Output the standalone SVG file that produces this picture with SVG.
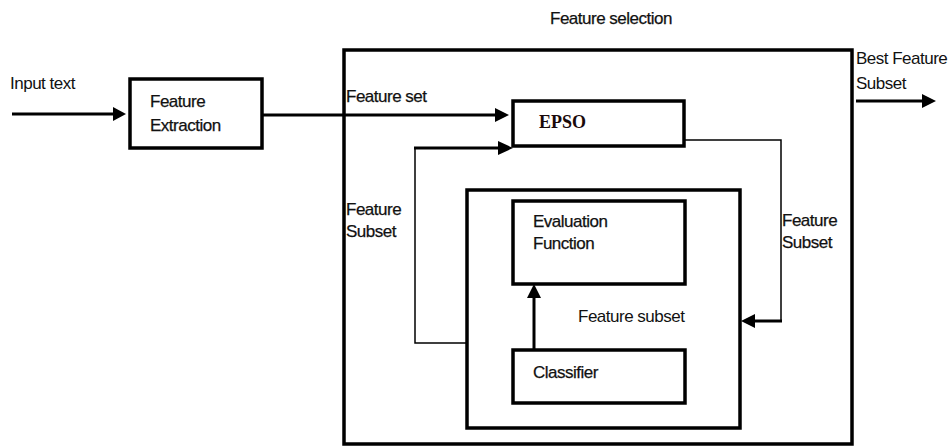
<svg xmlns="http://www.w3.org/2000/svg" width="950" height="447" viewBox="0 0 950 447">
<style>
text{font-family:"Liberation Sans",Arial,sans-serif;font-size:17px;fill:#111;letter-spacing:-0.5px;stroke:#111;stroke-width:0.25}
.box{fill:#fff;stroke:#000;stroke-width:3.5}
.thin{fill:none;stroke:#000;stroke-width:1.5}
.thick{fill:none;stroke:#000;stroke-width:3}
</style>
<text x="550" y="24">Feature selection</text>
<g id="outer"><rect class="box" x="344" y="50" width="508" height="394"/></g>
<g id="feature-extraction"><rect class="box" x="130" y="79" width="132" height="69"/>
<text x="150" y="107">Feature</text><text x="150" y="131">Extraction</text></g>
<g id="epso"><rect class="box" x="513" y="101" width="171" height="45"/>
<text x="539" y="128" style="font-family:'Liberation Serif','Times New Roman',serif;font-weight:bold;font-size:18px;letter-spacing:0;stroke:none;fill:#1a0a0a">EPSO</text></g>
<g id="inner"><rect class="box" x="467" y="190" width="273" height="238"/></g>
<g id="evaluation"><rect class="box" x="513" y="201" width="172" height="83"/>
<text x="533" y="227">Evaluation</text><text x="533" y="249">Function</text></g>
<g id="classifier"><rect class="box" x="513" y="350" width="172" height="53"/>
<text x="533" y="378">Classifier</text></g>
<g id="connectors">
<line class="thick" x1="12" y1="114" x2="113" y2="114"/>
<path d="M113,107 L126,114 L113,121 z"/>
<line class="thick" x1="262" y1="115" x2="495" y2="115"/>
<path d="M495,108 L509,115 L495,122 z"/>
<polyline class="thin" points="467,343 415,343 415,148"/>
<line class="thick" x1="414" y1="148" x2="498" y2="148"/>
<path d="M498,141 L513,148 L498,155 z"/>
<polyline class="thin" points="684,140 781,140 781,321 755,321"/>
<line class="thick" x1="782" y1="321" x2="754" y2="321"/>
<path d="M755,314 L741,321 L755,328 z"/>
<line class="thick" x1="534" y1="350" x2="534" y2="298"/>
<path d="M527,298 L534,284 L541,298 z"/>
<line class="thick" x1="856" y1="101" x2="922" y2="101"/>
<path d="M922,94 L936,101 L922,108 z"/>
</g>
<text x="346" y="102">Feature set</text>
<text x="346" y="215">Feature</text><text x="346" y="237">Subset</text>
<text x="782" y="226">Feature</text><text x="782" y="248">Subset</text>
<text x="578" y="322" style="stroke:none">Feature subset</text>
<text x="10" y="89" style="stroke:none">Input text</text>
<text x="856" y="64" style="stroke:none">Best Feature</text><text x="856" y="89" style="stroke:none">Subset</text>
</svg>
